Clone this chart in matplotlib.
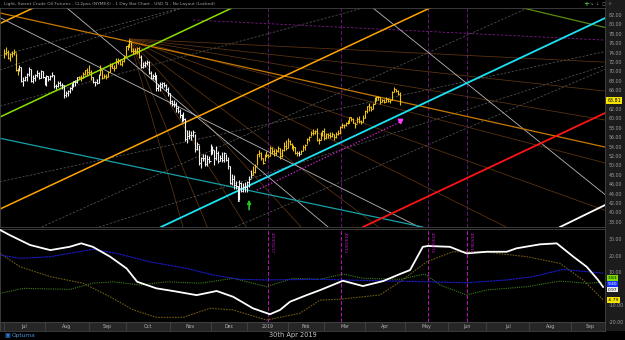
import numpy as np
import matplotlib
matplotlib.use("Agg")
import matplotlib.pyplot as plt

# ---------------- price data (daily bars, index 0 = 2 Jul 2018) ----------------
close_jul = [73.94, 74.14, 72.94, 73.80, 73.85, 74.11, 70.38, 70.33, 71.01, 68.06, 68.08, 68.76, 69.46, 70.46, 67.89, 68.52, 69.30, 69.61, 68.69, 70.13, 68.76]
high_jul  = [74.69, 75.27, 74.45, 74.00, 74.29, 74.70, 73.99, 70.80, 71.36, 70.91, 68.88, 69.10, 69.74, 70.93, 70.48, 69.25, 69.48, 70.20, 69.77, 70.27, 70.13]
low_jul   = [72.79, 73.54, 72.59, 72.23, 73.02, 73.40, 70.08, 69.33, 70.05, 67.80, 66.92, 67.94, 68.01, 69.00, 67.70, 67.64, 68.05, 68.85, 68.34, 68.55, 68.57]

close_aug = [67.66, 68.96, 68.49, 69.01, 69.17, 66.94, 66.81, 67.63, 67.20, 67.04, 65.01, 65.46, 65.91, 66.43, 67.35, 67.86, 67.83, 68.72, 68.87, 68.53, 69.51, 70.25, 69.80]
high_aug  = [68.88, 69.20, 68.97, 69.22, 69.80, 69.34, 67.32, 67.88, 67.87, 67.45, 67.18, 65.88, 66.10, 66.63, 67.50, 68.00, 68.26, 68.88, 69.13, 69.23, 69.77, 70.40, 70.69]
low_aug   = [67.06, 66.92, 67.99, 68.13, 68.80, 66.53, 66.32, 66.78, 66.86, 66.20, 64.43, 64.48, 64.84, 65.38, 65.94, 66.60, 66.85, 67.56, 68.31, 67.97, 68.58, 69.24, 69.34]

close_sep = [69.87, 68.72, 67.77, 67.75, 67.54, 69.25, 70.37, 68.59, 68.99, 68.91, 69.85, 71.12, 70.80, 70.78, 72.08, 72.28, 71.57, 72.12, 73.25]
high_sep  = [71.40, 70.20, 68.90, 68.06, 68.32, 69.51, 71.26, 70.23, 69.38, 69.54, 70.07, 71.75, 71.69, 71.28, 72.87, 72.80, 72.62, 72.33, 73.49]
low_sep   = [69.36, 68.24, 67.56, 66.96, 67.33, 67.55, 69.28, 68.37, 68.50, 68.32, 68.87, 69.79, 70.71, 70.09, 70.81, 71.63, 71.30, 71.10, 71.97]

close_oct = [75.30, 75.23, 76.41, 74.33, 74.34, 74.29, 74.96, 73.17, 70.97, 71.34, 71.78, 72.09, 69.75, 68.65, 69.12, 69.17, 66.43, 66.82, 67.33, 67.59, 67.04, 66.18, 65.31]
high_oct  = [75.40, 75.91, 76.90, 76.27, 75.00, 74.91, 75.11, 75.19, 73.42, 71.90, 72.29, 72.51, 72.24, 70.04, 69.48, 69.93, 69.33, 67.27, 67.72, 67.79, 67.84, 67.27, 66.62]
low_oct   = [73.27, 74.58, 75.15, 74.05, 73.69, 73.78, 73.71, 72.75, 70.71, 70.70, 70.98, 71.44, 69.51, 68.47, 68.47, 68.23, 65.74, 65.84, 65.86, 66.37, 66.60, 65.83, 64.86]

close_nov = [63.69, 63.14, 63.10, 62.21, 61.67, 60.67, 60.19, 59.93, 55.69, 56.25, 56.46, 56.46, 57.20, 53.43, 54.63, 50.42, 51.63, 51.56, 50.29, 51.45, 50.93]
high_nov  = [65.38, 63.92, 63.96, 63.57, 62.60, 62.07, 60.97, 61.28, 60.19, 57.60, 57.47, 57.27, 57.53, 56.75, 55.00, 54.29, 51.78, 52.40, 52.50, 52.32, 51.90]
low_nov   = [63.16, 62.55, 62.37, 61.31, 61.23, 60.15, 59.26, 59.52, 55.13, 54.75, 55.70, 55.48, 55.95, 52.77, 53.36, 50.14, 49.41, 50.91, 49.83, 49.92, 50.60]

close_dec = [52.95, 53.25, 51.49, 52.61, 51.00, 51.65, 51.15, 52.58, 51.20, 49.88, 46.24, 47.20, 45.88, 45.59, 42.53, 46.22, 44.61, 45.33, 45.41]
high_dec  = [54.55, 54.22, 53.28, 54.22, 53.00, 52.31, 52.89, 52.79, 52.36, 51.87, 49.95, 48.24, 48.03, 46.65, 45.67, 46.85, 46.53, 46.32, 46.37]
low_dec   = [52.14, 52.50, 50.08, 51.20, 50.46, 50.94, 50.80, 50.82, 50.90, 49.34, 46.10, 45.81, 45.02, 45.01, 42.36, 42.55, 44.35, 44.37, 44.38]

close_jan = [46.54, 47.09, 47.96, 48.52, 49.78, 52.36, 52.59, 51.59, 50.51, 52.11, 52.31, 52.07, 53.80, 53.01, 52.62, 53.13, 53.69, 51.99, 53.31, 54.23, 53.79]
high_jan  = [46.73, 47.79, 49.00, 49.79, 50.31, 52.49, 53.31, 52.91, 51.58, 52.50, 52.99, 52.40, 54.10, 53.90, 53.56, 53.48, 54.16, 53.77, 53.43, 54.94, 55.37]
low_jan   = [44.35, 45.35, 47.25, 47.90, 48.47, 49.99, 51.72, 51.18, 50.28, 50.84, 51.80, 51.67, 51.94, 52.51, 52.09, 52.21, 52.88, 51.38, 51.73, 53.13, 53.38]

close_feb = [55.26, 54.56, 53.66, 54.01, 52.64, 52.72, 52.41, 53.10, 53.90, 54.41, 55.59, 56.09, 56.92, 57.00, 57.26, 55.48, 55.50, 56.94, 57.22]
high_feb  = [55.75, 55.40, 54.68, 54.30, 53.98, 53.02, 52.97, 53.38, 54.27, 54.66, 55.87, 56.32, 57.28, 57.81, 57.55, 57.88, 55.80, 57.14, 57.52]
low_feb   = [53.79, 54.40, 53.40, 53.13, 52.44, 51.98, 51.99, 52.33, 53.12, 53.29, 54.60, 55.26, 56.16, 56.53, 56.74, 55.24, 54.52, 55.38, 56.36]

close_mar = [55.80, 56.59, 56.56, 56.22, 56.66, 56.07, 56.79, 56.87, 58.26, 58.61, 58.52, 59.09, 59.03, 60.23, 59.98, 59.04, 58.82, 59.94, 59.41, 59.30, 60.14]
high_mar  = [57.88, 56.92, 56.84, 57.16, 57.14, 56.77, 57.07, 57.50, 58.44, 58.99, 58.85, 59.23, 59.57, 60.39, 60.39, 60.10, 59.27, 60.39, 60.60, 59.75, 60.73]
low_mar   = [55.42, 55.64, 55.92, 55.79, 55.98, 55.51, 55.88, 56.50, 56.72, 57.96, 57.95, 58.34, 58.77, 59.04, 59.54, 58.92, 58.06, 58.92, 58.98, 58.75, 59.15]

close_apr = [61.59, 62.58, 62.46, 62.10, 63.08, 64.40, 64.61, 64.61, 63.58, 63.89, 63.40, 64.05, 63.76, 64.00, 65.70, 66.30, 65.89, 65.21, 63.81]
high_apr  = [61.78, 62.63, 63.23, 62.70, 63.22, 64.62, 64.79, 64.72, 64.46, 64.20, 64.22, 64.50, 64.42, 64.07, 65.92, 66.60, 66.21, 65.98, 65.54]
low_apr   = [60.05, 61.25, 61.52, 61.58, 61.95, 63.06, 63.79, 63.82, 63.17, 63.42, 63.33, 63.42, 63.51, 63.29, 64.01, 65.60, 65.62, 64.92, 62.81]

# bar colouring runs (Y = yellow, W = white)
color_runs = [("Y", 8), ("W", 31), ("Y", 7), ("W", 4), ("Y", 21), ("W", 58), ("Y", 24), ("W", 1), ("Y", 52)]

# month axis (bar index of first trading day of each month)
month_starts = [-21, 0, 21, 44, 63, 86, 107, 126, 147, 166, 187, 208, 230, 250, 272, 294, 314]
month_labels = ["Jun", "Jul", "Aug", "Sep", "Oct", "Nov", "Dec", "2019", "Feb", "Mar", "Apr", "May", "Jun", "Jul", "Aug", "Sep"]

# vertical date markers
vline_idx = [137, 174.5, 219.7, 240]
vline_labels = ["2019/01/17", "2019/03/13", "2019/05/16", "2019/06/14"]

# trend lines: (point1, point2) in (bar index, price)
orange_main = [(-2.07, 40.72), (220.7, 83.49)]
orange_upper = [(-2.07, 80.19), (220.7, 122.96)]
green_line = [(-2.07, 60.30), (118.1, 83.49)]
olive_line = [(268.9, 83.49), (310.4, 79.45)]
cyan_line = [(91.2, 38.81), (310.4, 81.15)]
red_line = [(186.0, 36.90), (311.4, 61.15)]
white_line = [(288.1, 36.90), (311.4, 41.57)]
median_line = [(-2.07, 82.43), (311.4, 53.91)]
teal_line = [(91.2, 47.74), (194.8, 38.81)]
grey_lines = [[(32.6, 83.49), (167.9, 36.90)],
              [(191.2, 83.49), (310.4, 44.13)],
              [(104.1, 59.66), (210.4, 37.85)]]
dashed_pts = [(-0.5, 73.49), (-2.07, 70.30), (153.4, 79.87), (200.0, 70.30),
              (253.4, 60.30), (91.2, 54.77), (122.3, 46.47)]
dashed_slopes = [0.1085, 0.1396, 0.111, 0.185, 0.175, 0.0883, 0.131]
magenta_dash = [(97.9, 80.94), (311.4, 76.66)]
magenta_dot = [(131.1, 44.77), (205.2, 59.23)]
fan_apex = (65, 76.90)
fan_slopes = [-0.02, -0.045, -0.07, -0.107, -0.148, -0.205, -0.31, -0.45, -0.66, -0.99, -1.44]
arrow_up = (127, 40.0, 43.3)
arrow_down = (205.2, 59.45)

# lower indicator panel
white_x = [-2, 3, 13.5, 24, 34, 40, 46, 55, 63.5, 69, 79, 87.6, 99.8, 110.2, 118.7, 129, 137.8, 143, 148.2, 156.8, 163.7, 175.6, 186, 196.4, 205.2, 210.4, 217, 219.7, 231, 239.7, 250.1, 260.5, 265.6, 277.7, 286.4, 295, 301.9, 307.8, 310.4]
white_y = [35.5, 32.4, 26.4, 23.3, 25.3, 27.4, 25.3, 19.3, 12.2, 4.1, 0.1, -1.5, -4.0, -1.5, -5.0, -12.0, -15.6, -13.0, -8.0, -4.0, -1.0, 4.7, 1.5, 4.5, 8.8, 11.2, 25.3, 25.8, 25.3, 21.3, 22.3, 22.3, 24.4, 26.8, 27.4, 19.3, 13.2, 5.2, 0.97]
blue_x = [-2, 8.3, 24, 46, 58.4, 75.6, 94.7, 108.3, 122.3, 136, 163.7, 175.6, 219, 239.7, 260.5, 274, 289.6, 301.9, 310.4]
blue_y = [20.3, 18.3, 19.3, 23.8, 21.3, 16.2, 12.2, 8.2, 5.6, 5.2, 5.6, 5.2, 4.1, 3.5, 5.2, 7.2, 11.6, 10.2, 9.4]
green_x = [-2, 10, 34.2, 46, 56.5, 70.5, 84.3, 101.6, 118.7, 136, 149.7, 163.7, 175.6, 186, 205.2, 218.1, 226, 239.7, 250.1, 270.8, 288, 301.9, 310.4]
green_y = [-2.9, 0.1, -0.5, 3.2, 4.1, 2.1, 4.1, 3.2, 6.2, 1.1, 6.2, 5.6, 8.8, 6.2, 5.6, 8.8, 2.1, -3.9, -0.9, 1.1, 4.5, 3.2, 3.83]
olive_x = [-2, 8.3, 24, 41, 55, 67, 79, 92.7, 106.7, 118.7, 136, 153.4, 163.7, 174, 194.8, 205.2, 219, 232.6, 248.2, 270.8, 288, 300, 310.4]
olive_y = [21.3, 13.2, 7.2, 3.2, -5.0, -13.0, -17.5, -17.5, -12.0, -13.0, -19.1, -15.0, -7.0, -6.5, -3.9, 4.1, 16.2, 22.3, 22.3, 19.3, 15.3, 5.2, -6.79]

title = "Light, Sweet Crude Oil Futures - CL2pos (NYMEX) - 1 Day Bar Chart - USD \u21c5 - No Layout (Locked)"
date_text = "30th Apr 2019"

# ---------------- assemble ----------------
closes = np.array(close_jul + close_aug + close_sep + close_oct + close_nov + close_dec + close_jan + close_feb + close_mar + close_apr)
highs = np.array(high_jul + high_aug + high_sep + high_oct + high_nov + high_dec + high_jan + high_feb + high_mar + high_apr)
lows = np.array(low_jul + low_aug + low_sep + low_oct + low_nov + low_dec + low_jan + low_feb + low_mar + low_apr)
n = min(len(closes), len(highs), len(lows))
closes, highs, lows = closes[:n], highs[:n], lows[:n]
idx = np.arange(n)

YEL, WHT = "#efc213", "#f2f2f2"
cols = []
for c, k in color_runs:
    cols += [YEL if c == "Y" else WHT] * k
cols = (cols + [YEL] * n)[:n]

W, H = 625, 340
fig = plt.figure(figsize=(W / 100, H / 100), dpi=100, facecolor="black")


def px_axes(x0, y0, x1, y1, fc="black"):
    a = fig.add_axes([x0 / W, 1 - y1 / H, (x1 - x0) / W, (y1 - y0) / H])
    a.set_facecolor(fc)
    return a


XL = (-2.07, 311.4)

# right axis strip
axr = px_axes(605, 0, 625, 331, "#1c1c1c")
axr.set_xticks([]); axr.set_yticks([])
for s in axr.spines.values():
    s.set_visible(False)

ax = px_axes(0, 8, 605, 227)
ax2 = px_axes(0, 229, 605, 322)
axm = px_axes(0, 322, 605, 331, "#262626")

for a in (ax, ax2, axm):
    a.set_xlim(*XL)
    for s in a.spines.values():
        s.set_color("#444444")
        s.set_linewidth(0.6)

ax.set_ylim(36.9, 83.49)
ax2.set_ylim(-20.3, 36.1)

# ---- upper panel lines ----
for s in fan_slopes:
    x_end = XL[1]
    ax.plot([fan_apex[0], x_end], [fan_apex[1], fan_apex[1] + s * (x_end - fan_apex[0])],
            color="#5e3510", lw=0.55, zorder=1)
for p, s in zip(dashed_pts, dashed_slopes):
    ax.axline(p, slope=s, color="#555555", lw=0.55, ls=(0, (3, 2)), zorder=1)
ax.plot([p[0] for p in magenta_dash], [p[1] for p in magenta_dash], color="#7a1a86", lw=0.6, ls=(0, (3, 2)), zorder=1)
for g in grey_lines:
    ax.axline(g[0], g[1], color="#b8b8b8", lw=0.6, zorder=2)
for vx in vline_idx:
    ax.axvline(vx, color="#6a1278", lw=0.7, ls=(0, (4, 2)), zorder=1)
    ax2.axvline(vx, color="#c010c0", lw=0.7, ls=(0, (4, 2)), zorder=1)

ax.axline(*teal_line, color="#17a0a8", lw=0.9, zorder=2)
ax.axline(*median_line, color="#c77800", lw=0.9, zorder=2)
ax.axline(*orange_main, color="#ffa500", lw=1.1, zorder=2)
ax.axline(*orange_upper, color="#ffa500", lw=1.1, zorder=2)
ax.axline(*green_line, color="#8be000", lw=1.1, zorder=2)
ax.axline(*olive_line, color="#5b8c12", lw=0.9, zorder=2)
ax.axline(*cyan_line, color="#19e3f5", lw=1.3, zorder=2)
ax.axline(*red_line, color="#ff1414", lw=1.3, zorder=2)
ax.axline(*white_line, color="#ffffff", lw=1.3, zorder=2)
ax.plot([p[0] for p in magenta_dot], [p[1] for p in magenta_dot], color="#e020e0", lw=0.9, ls=(0, (1, 1.5)), zorder=2)

# ---- price bars ----
ax.vlines(idx, lows, highs, colors=cols, lw=0.8, zorder=4)
ax.hlines(closes, idx, idx + 0.55, colors=cols, lw=0.7, zorder=4)
ax.hlines(closes[:-1], idx[1:] - 0.55, idx[1:], colors=cols[1:], lw=0.7, zorder=4)

ax.annotate("", xy=(arrow_up[0], arrow_up[2]), xytext=(arrow_up[0], arrow_up[1]),
            arrowprops=dict(arrowstyle="-|>", color="#25c425", lw=1.2, mutation_scale=5), zorder=5)
ax.plot([arrow_down[0]], [arrow_down[1]], marker="v", color="#ff3cff", ms=3.2, zorder=5)

ax.set_xticks([])
ax.yaxis.tick_right()
yt = [v for v in np.arange(38, 84, 2) if abs(v - closes[-1]) > 1.0]
ax.set_yticks(yt)
ax.set_yticklabels([f"{v:.2f}" for v in yt])
ax.tick_params(axis="y", length=0, pad=2.5, labelsize=3.4, labelcolor="#9c9c9c")

ax.annotate(f"{closes[-1]:.2f}", xy=(1.004, closes[-1]), xycoords=("axes fraction", "data"),
            fontsize=3.4, color="black", va="center", ha="left", annotation_clip=False,
            bbox=dict(boxstyle="square,pad=0.25", fc="#f5e400", ec="none"), zorder=10)

# ---- lower panel ----
ax2.plot(olive_x, olive_y, color="#6e5a12", lw=0.8, ls=(0, (1.5, 1)), zorder=2)
ax2.plot(green_x, green_y, color="#3e7d18", lw=0.8, ls=(0, (1, 1)), zorder=2)
ax2.plot(blue_x, blue_y, color="#1a1ad0", lw=0.8, ls=(0, (2, 0.6)), zorder=2)
ax2.plot(white_x, white_y, color="#ffffff", lw=1.3, zorder=3)
for vx, lab in zip(vline_idx, vline_labels):
    ax2.text(vx + 0.8, 34.5, lab, rotation=270, color="#d020d0", fontsize=2.6, va="top", ha="left")

ax2.set_xticks([])
ax2.yaxis.tick_right()
yt2 = [-20, -10, 10, 20, 30]
ax2.set_yticks(yt2)
ax2.set_yticklabels([f"{v:.2f}" for v in yt2])
ax2.tick_params(axis="y", length=0, pad=2.5, labelsize=3.4, labelcolor="#9c9c9c")

# last-value boxes, stacked (green, blue, white, yellow) below the 10.00 tick
boxes = [(green_y[-1], "#7ee000", "black"), (blue_y[-1], "#1530ff", "white"),
         (white_y[-1], "#f0f0f0", "black"), (olive_y[-1], "#f5e400", "black")]
gap = 3.5
yv = min(max(b[0] for b in boxes), 10 - 3.6)
for k, (val, fc, tc) in enumerate(boxes):
    if k > 0:
        yv = min(yv - gap, val) if k == len(boxes) - 1 else yv - gap
    ax2.annotate(f"{val:.2f}", xy=(1.004, yv), xycoords=("axes fraction", "data"),
                 fontsize=3.2, color=tc, va="center", ha="left", annotation_clip=False,
                 bbox=dict(boxstyle="square,pad=0.2", fc=fc, ec="none"), zorder=10)

# ---- month band ----
axm.set_ylim(0, 1)
axm.set_yticks([]); axm.set_xticks([])
for ms in month_starts:
    axm.axvline(ms, color="#4a4a4a", lw=0.5)
for i, lab in enumerate(month_labels):
    cx = (month_starts[i] + month_starts[i + 1]) / 2
    if XL[0] < cx < XL[1]:
        axm.text(cx, 0.45, lab, color="#b4b4b4", fontsize=3.4, ha="center", va="center")

# ---- texts ----
fig.text(4 / W, 1 - 4.5 / H, title, color="#a0a0a0", fontsize=3.2, va="center", ha="left")
fig.text(586 / W, 1 - 4.5 / H, "+", color="#3cb83c", fontsize=5, va="center", ha="center", weight="bold")
fig.text(601 / W, 1 - 4.5 / H, "\u2198  \u2193  \u25a2  \u2715", color="#8a8a8a", fontsize=3, va="center", ha="center")
fig.text(4 / W, 1 - 335.5 / H, "\u25a3", color="#2f7fd0", fontsize=4.5, va="center", ha="left")
fig.text(12 / W, 1 - 335.5 / H, "Optuma", color="#4a90d8", fontsize=4.2, va="center", ha="left")
fig.text(293 / W, 1 - 335.5 / H, date_text, color="#c8c8c8", fontsize=4.8, va="center", ha="center")

fig.savefig("out.png", dpi=100, facecolor="black")
